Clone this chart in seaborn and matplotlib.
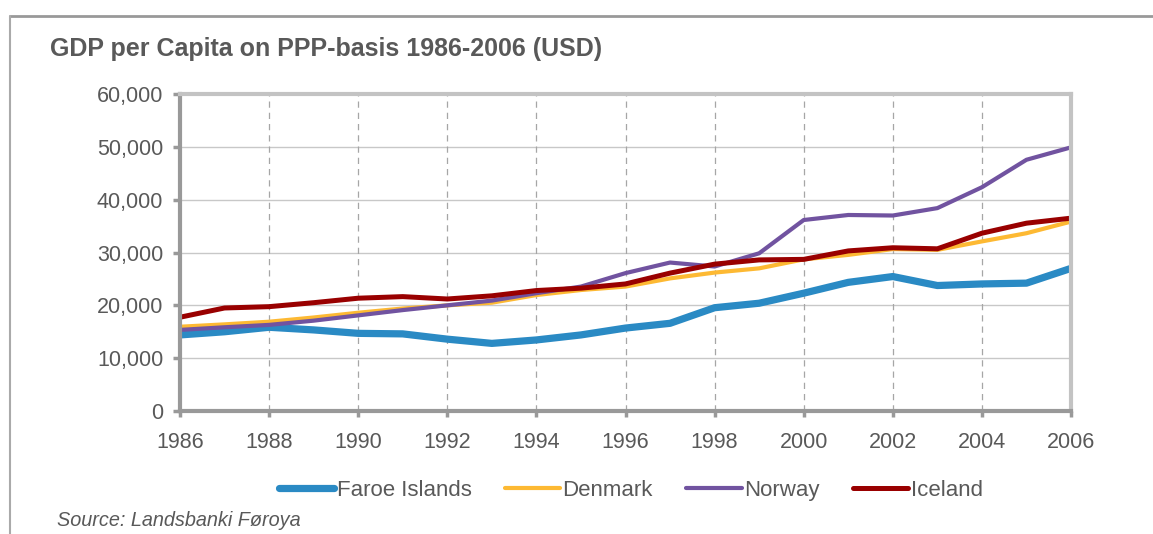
import matplotlib
matplotlib.use("Agg")
import matplotlib.pyplot as plt
import matplotlib.ticker as mticker
from matplotlib.lines import Line2D
import seaborn as sns
import pandas as pd

# Data
years = list(range(1986, 2007))
faroe = [14400, 15000, 15850, 15350, 14700, 14600, 13600, 12800, 13450, 14400,
         15700, 16600, 19550, 20400, 22300, 24350, 25450, 23750, 24050, 24200, 27000]
denmark = [15950, 16400, 16900, 17700, 18600, 19400, 20000, 20500, 21950, 22900,
           23550, 25100, 26200, 27000, 28700, 29550, 30650, 30500, 32100, 33650, 35850]
norway = [15350, 15850, 16300, 17100, 18100, 19100, 20000, 20900, 22300, 23550,
          26100, 28100, 27350, 29850, 36150, 37100, 37000, 38400, 42350, 47550, 49900]
iceland = [17750, 19500, 19750, 20500, 21350, 21650, 21200, 21800, 22800, 23250,
           24050, 26100, 27800, 28600, 28700, 30300, 30900, 30700, 33650, 35550, 36500]

series = {"Faroe Islands": faroe, "Denmark": denmark, "Norway": norway, "Iceland": iceland}
colors = {"Faroe Islands": "#2a8ac4", "Denmark": "#fdb933", "Norway": "#7153a0", "Iceland": "#990000"}
widths = {"Faroe Islands": 5.2, "Denmark": 3.0, "Norway": 3.0, "Iceland": 3.6}

df = pd.DataFrame([(y, name, v) for name, vals in series.items() for y, v in zip(years, vals)],
                  columns=["year", "country", "gdp"])

sns.set_style("white")
plt.rcParams["font.family"] = ["Liberation Sans", "DejaVu Sans"]
txt = "#595959"

fig = plt.figure(figsize=(11.53, 5.34), dpi=100)
ax = fig.add_axes([0.1561, 0.2303, 0.9289 - 0.1561, 0.824 - 0.2303])

for name in series:
    sns.lineplot(data=df[df["country"] == name], x="year", y="gdp", ax=ax,
                 color=colors[name], linewidth=widths[name], label=name,
                 solid_capstyle="butt", legend=False)

ax.set_xlim(1986, 2006)
ax.set_ylim(0, 60000)
ax.set_xticks(range(1986, 2007, 2))
ax.set_yticks(range(0, 60001, 10000))
ax.yaxis.set_major_formatter(mticker.FuncFormatter(lambda v, p: f"{int(v):,}"))
ax.set_xlabel("")
ax.set_ylabel("")

ax.grid(False)
for yv in range(10000, 60000, 10000):
    ax.axhline(yv, color="#c8c8c8", linewidth=1.0, zorder=0)
for xv in range(1988, 2006, 2):
    ax.axvline(xv, color="#a6a6a6", linewidth=0.9, linestyle=(0, (5, 4)), zorder=0)

for side in ["left", "bottom"]:
    ax.spines[side].set_color("#999999")
    ax.spines[side].set_linewidth(3)
for side in ["top", "right"]:
    ax.spines[side].set_color("#c3c3c3")
    ax.spines[side].set_linewidth(3)

ax.tick_params(axis="y", direction="out", length=5, width=2.5, color="#999999",
               labelsize=15.5, labelcolor=txt, pad=7, left=True)
ax.tick_params(axis="x", direction="out", length=4, width=2.5, color="#999999",
               labelsize=15.5, labelcolor=txt, pad=11, bottom=True)

handles = [Line2D([0], [0], color=colors[n], linewidth=widths[n], solid_capstyle="round") for n in series]
leg = fig.legend(handles, list(series.keys()), loc="center", bbox_to_anchor=(0.547, 0.082),
                 ncol=4, frameon=False, fontsize=16, handlelength=2.5, handletextpad=0.1,
                 columnspacing=1.5, labelcolor=txt)

fig.text(50 / 1153, 1 - 49 / 534, "GDP per Capita on PPP-basis 1986-2006 (USD)",
         fontsize=18, fontweight="bold", color=txt, ha="left", va="center")
fig.text(57 / 1153, 1 - 520 / 534, "Source: Landsbanki Føroya",
         fontsize=14.3, fontstyle="italic", color=txt, ha="left", va="center")

# outer frame (top and left edges)
fig.add_artist(Line2D([10 / 1153, 1.0], [1 - 16 / 534, 1 - 16 / 534], color="#999999", linewidth=2,
                      transform=fig.transFigure))
fig.add_artist(Line2D([10 / 1153, 10 / 1153], [1 - 16 / 534, 0.0], color="#aaaaaa", linewidth=1.5,
                      transform=fig.transFigure))

fig.savefig("out.png", dpi=100)
